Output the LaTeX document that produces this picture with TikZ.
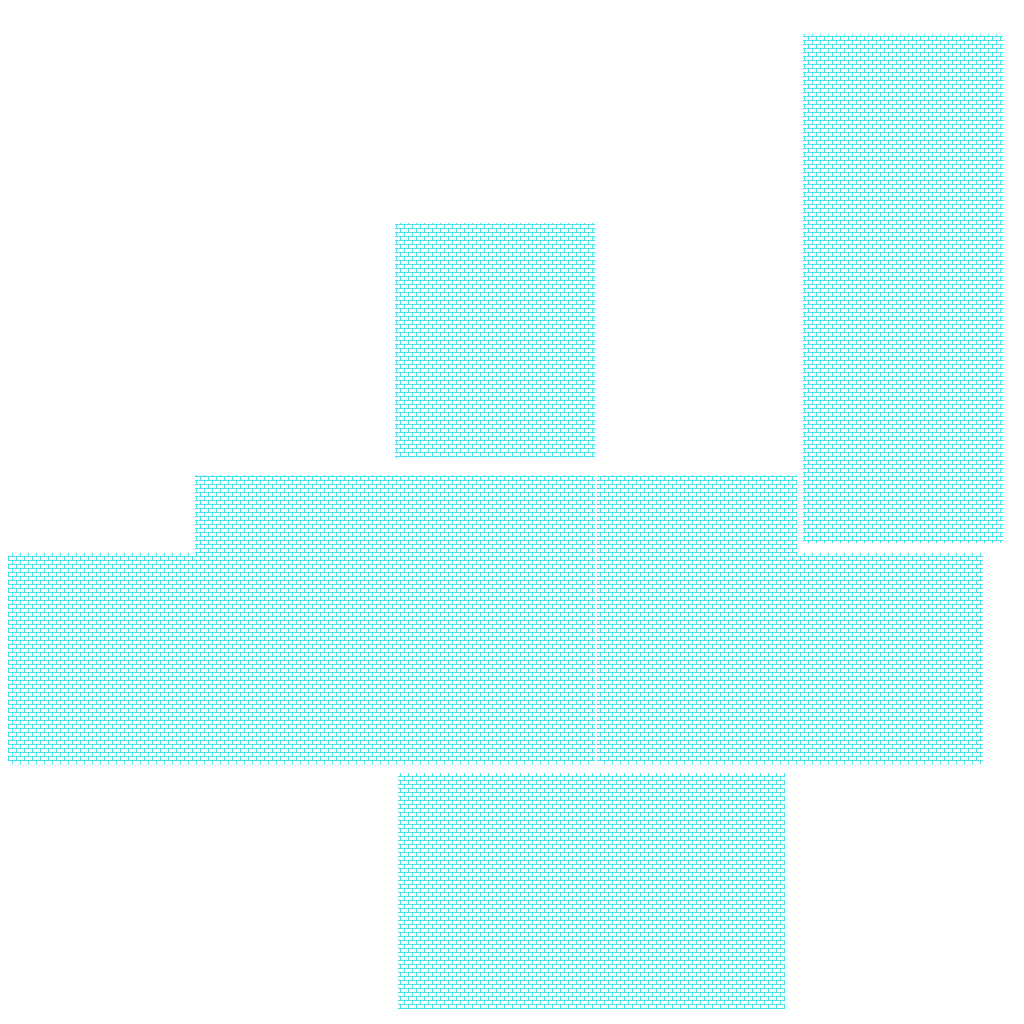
\documentclass[tikz,border=0pt]{standalone}
\usepackage{tikz}
\usetikzlibrary{patterns}
\usetikzlibrary{positioning}
\usetikzlibrary{calc}
\usepackage{color}
\definecolor{brickcyan}{RGB}{64,224,240}

\pgfdeclarepatternformonly{brickwall}{\pgfpoint{-1pt}{-1pt}}{\pgfpoint{17pt}{17pt}}{\pgfpoint{16pt}{16pt}}
{
  \pgfsetlinewidth{1.8pt}
  \pgfpathmoveto{\pgfpoint{0pt}{0pt}}
  \pgfpathlineto{\pgfpoint{16pt}{0pt}}
  \pgfpathmoveto{\pgfpoint{0pt}{8pt}}
  \pgfpathlineto{\pgfpoint{16pt}{8pt}}
  \pgfpathmoveto{\pgfpoint{0pt}{0pt}}
  \pgfpathlineto{\pgfpoint{0pt}{8pt}}
  \pgfpathmoveto{\pgfpoint{8pt}{8pt}}
  \pgfpathlineto{\pgfpoint{8pt}{16pt}}
  \pgfusepath{stroke}
}

\begin{document}
\begin{tikzpicture}[x=2pt,y=-2pt,
                    wall/.style={pattern=brickwall,pattern color=brickcyan}]

  \useasboundingbox (0,0) rectangle (1024,1024);

  % tall block on the right
  \fill[wall] (803,34) rectangle (1003,542);
  % square in the middle
  \fill[wall] (395,223) rectangle (595,457);
  % left step
  \fill[wall] (195,475) -- (595,475) -- (595,764) -- (8,764) -- (8,553) -- (195,553) -- cycle;
  % right step
  \fill[wall] (597,475) -- (797,475) -- (797,553) -- (983,553) -- (983,764) -- (597,764) -- cycle;
  % bottom block
  \fill[wall] (398,773) rectangle (785,1008);

\end{tikzpicture}
\end{document}
